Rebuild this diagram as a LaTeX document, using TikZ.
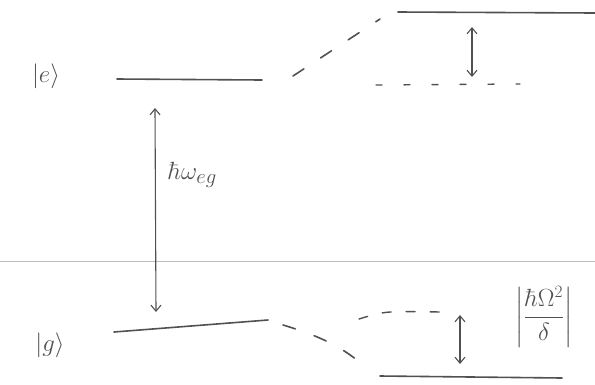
\documentclass[tikz,border=0pt]{standalone}
\usepackage{amsmath}
\usetikzlibrary{arrows.meta}
\definecolor{pen}{RGB}{80,82,82}
\definecolor{rule}{RGB}{185,190,200}
\tikzset{
  level/.style={draw=pen, line width=1.6pt, line cap=round},
  dashlev/.style={draw=pen, line width=1.6pt, line cap=round, dash pattern=on 13pt off 20pt},
  dotlev/.style={draw=pen, line width=1.4pt, line cap=round, dash pattern=on 6pt off 22pt},
  dbl/.style={draw=pen, line width=1.1pt, {Straight Barb[length=6pt,width=10pt]}-{Straight Barb[length=6pt,width=10pt]}},
  lbl/.style={text=pen, inner sep=0pt}
}
\begin{document}
\begin{tikzpicture}[x=1pt,y=-1pt]
\useasboundingbox (0,0) rectangle (595,384);
% paper rule line
\coordinate (r1) at (0,261);
\coordinate (r2) at (595,261);
\draw[rule, line width=0.8pt] (r1) -- (r2);
% labels
\node[lbl, font=\fontsize{30}{34}\selectfont] (elbl) at (46,76) {$|e\rangle$};
\node[lbl, font=\fontsize{30}{34}\selectfont] (glbl) at (50,345) {$|g\rangle$};
% excited level
\coordinate (e1) at (117,79);
\coordinate (e2) at (262,80);
\draw[level] (e1) -- (e2);
% dashed to shifted upper level
\coordinate (d1) at (293,76);
\coordinate (d2) at (380,19);
\draw[dashlev] (d1) -- (d2);
\coordinate (u1) at (398,12);
\coordinate (u2) at (595,13);
\draw[level] (u1) -- (u2);
% unshifted dotted level
\coordinate (o1) at (376,85);
\coordinate (o2) at (520,84);
\draw[dotlev] (o1) -- (o2);
% small shift arrow upper
\coordinate (sa1) at (472,27);
\coordinate (sa2) at (472,77);
\draw[dbl] (sa1) -- (sa2);
% big transition arrow
\coordinate (b1) at (155,108);
\coordinate (b2) at (156,312);
\draw[dbl] (b1) -- (b2);
\node[lbl, font=\fontsize{28}{32}\selectfont, anchor=west] (wlbl) at (168,175) {$\hbar\omega_{eg}$};
% ground level
\coordinate (g1) at (114,332);
\coordinate (g2) at (268,320);
\draw[level] (g1) -- (g2);
% descending dashed
\coordinate (gd1) at (283,325);
\coordinate (gd2) at (366,368);
\draw[dashlev] (gd1) .. controls (320,336) and (345,348) .. (gd2);
% upper dashed arc (unshifted)
\coordinate (ga1) at (359,319);
\coordinate (ga2) at (440,312);
\draw[dotlev, dash pattern=on 9pt off 15pt] (ga1) .. controls (385,311) .. (ga2);
% lower shifted level
\coordinate (l1) at (380,376);
\coordinate (l2) at (562,378);
\draw[level] (l1) -- (l2);
% small shift arrow lower
\coordinate (sb1) at (460,315);
\coordinate (sb2) at (460,364);
\draw[dbl] (sb1) -- (sb2);
\node[lbl, font=\fontsize{27}{31}\selectfont] (flbl) at (544,317) {$\left|\dfrac{\hbar\Omega^2}{\delta}\right|$};
\end{tikzpicture}
\end{document}
